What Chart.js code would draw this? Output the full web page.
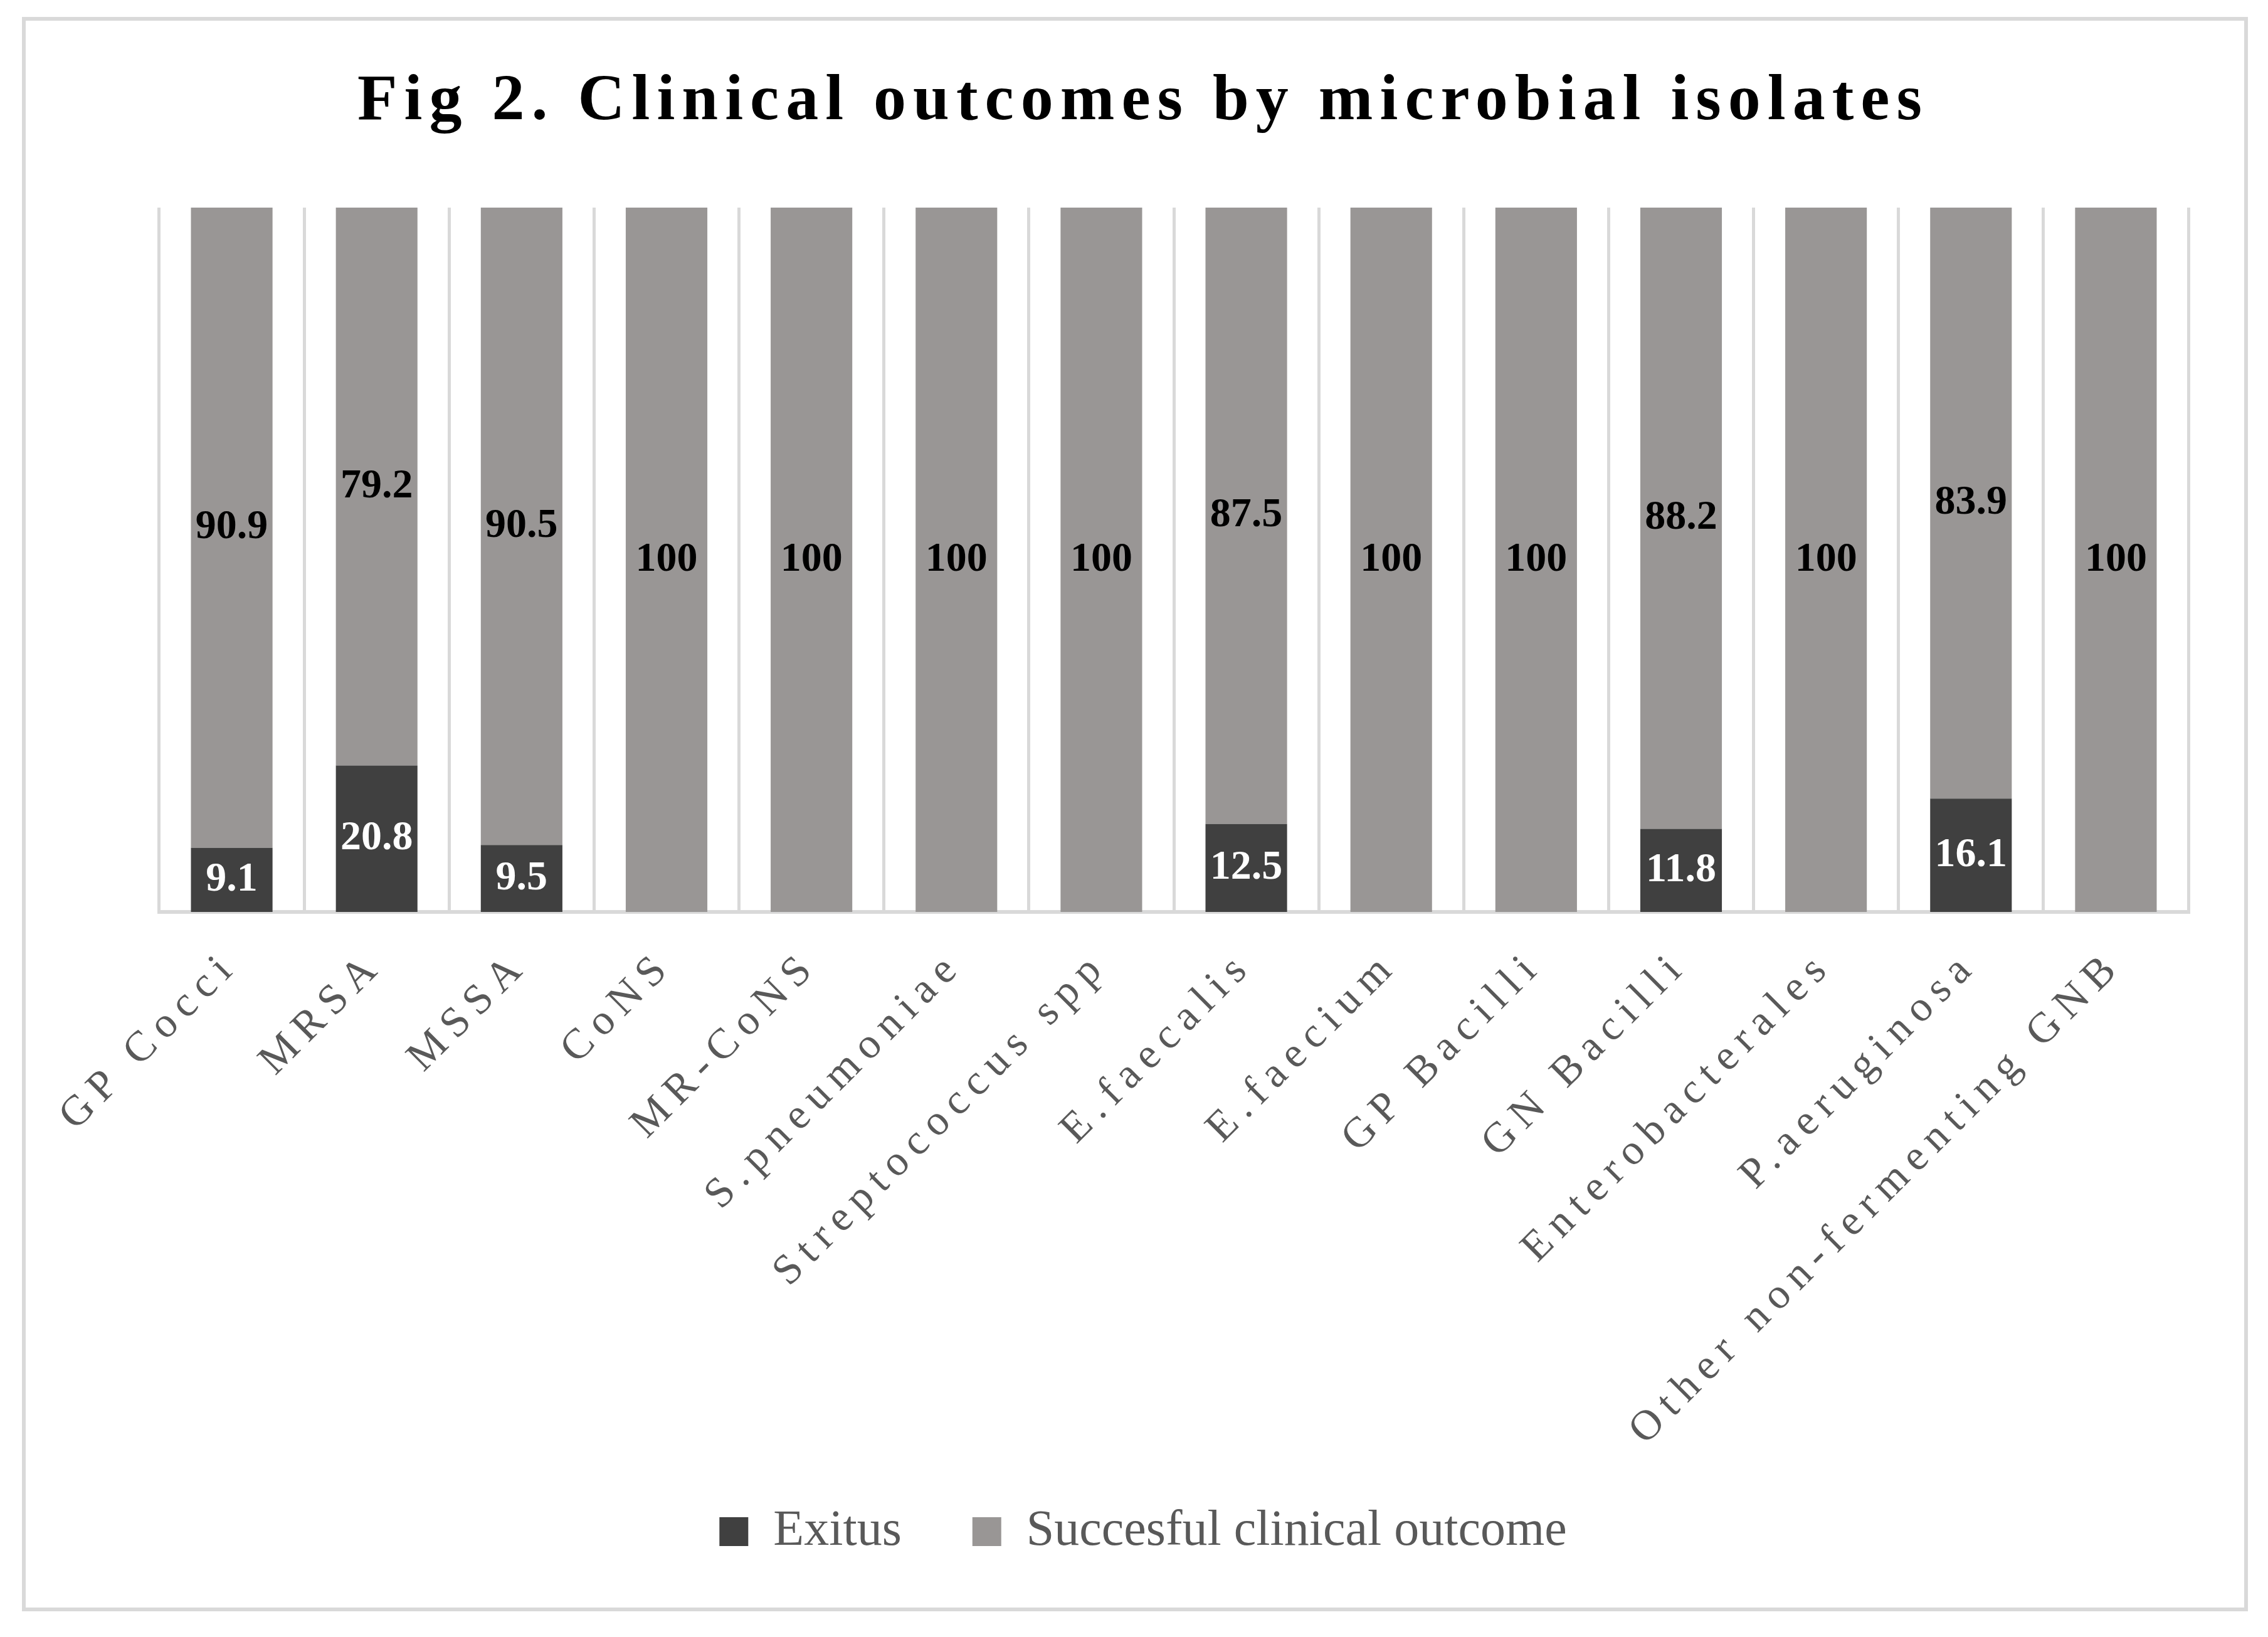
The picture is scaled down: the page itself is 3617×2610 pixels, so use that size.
<!DOCTYPE html>
<html>
<head>
<meta charset="utf-8">
<script src="https://cdn.jsdelivr.net/npm/chart.js@4.4.1/dist/chart.umd.min.js"></script>
<style>
html,body{margin:0;padding:0;background:#fff;overflow:hidden}
#wrap{width:3617px;height:2610px}
</style>
</head>
<body>
<div id="wrap"><canvas id="c" width="3617" height="2610" style="width:3617px;height:2610px"></canvas></div>
<script>
const chartTitle = 'Fig 2. Clinical outcomes by microbial isolates';
const categories = ['GP Cocci','MRSA','MSSA','CoNS','MR-CoNS','S.pneumoniae','Streptococcus spp','E.faecalis','E.faecium','GP Bacilli','GN Bacilli','Enterobacterales','P.aeruginosa','Other non-fermenting GNB'];
const seriesNames = ['Exitus','Succesful clinical outcome'];
const exitusValues = [9.1,20.8,9.5,0,0,0,0,12.5,0,0,11.8,0,16.1,0];
const successValues = [90.9,79.2,90.5,100,100,100,100,87.5,100,100,88.2,100,83.9,100];

const SERIF = '"Liberation Serif", "DejaVu Serif", serif';

const framePlugin = {
  id: 'frame',
  beforeDraw(chart) {
    const ctx = chart.ctx;
    ctx.save();
    ctx.fillStyle = '#ffffff';
    ctx.fillRect(0, 0, chart.width, chart.height);
    ctx.strokeStyle = '#d9d9d9';
    ctx.lineWidth = 6;
    ctx.strokeRect(38, 30, 3544, 2536);
    ctx.restore();
    // letter spacing for the category labels, no clipping to the axis box
    const sx = chart.scales.x;
    if (sx && !sx.__ls) {
      sx.__ls = true;
      sx._computeLabelArea = function () { return undefined; };
      const orig = sx.drawLabels;
      sx.drawLabels = function (area) {
        const c = this.ctx;
        c.save();
        c.letterSpacing = '13.5px';
        orig.call(this, area);
        c.restore();
      };
    }
    // letter spacing for the title
    const tb = chart.titleBlock;
    if (tb && !tb.__ls) {
      tb.__ls = true;
      const o = tb.draw;
      tb.draw = function () {
        const c = this.ctx;
        c.save();
        c.letterSpacing = '11px';
        o.apply(this, arguments);
        c.restore();
      };
    }
  }
};

const valueLabelPlugin = {
  id: 'valueLabels',
  afterDatasetsDraw(chart) {
    const ctx = chart.ctx;
    ctx.save();
    ctx.font = 'bold 66px ' + SERIF;
    ctx.textAlign = 'center';
    ctx.textBaseline = 'middle';
    chart.data.datasets.forEach((ds, i) => {
      const meta = chart.getDatasetMeta(i);
      meta.data.forEach((bar, j) => {
        const v = ds.data[j];
        if (!v) return;
        const p = bar.getProps(['x', 'y', 'base'], true);
        ctx.fillStyle = ds.labelColor;
        ctx.fillText(String(v), p.x, (p.y + p.base) / 2);
      });
    });
    ctx.restore();
  }
};

new Chart(document.getElementById('c'), {
  type: 'bar',
  data: {
    labels: categories,
    datasets: [
      { label: seriesNames[0], data: exitusValues, backgroundColor: '#404040', labelColor: '#ffffff',
        borderWidth: 0, barPercentage: 0.563, categoryPercentage: 1 },
      { label: seriesNames[1], data: successValues, backgroundColor: '#999695', labelColor: '#000000',
        borderWidth: 0, barPercentage: 0.563, categoryPercentage: 1 }
    ]
  },
  options: {
    responsive: false,
    devicePixelRatio: 1,
    animation: false,
    events: [],
    layout: { padding: { left: 156, right: 127, top: 0, bottom: 118 } },
    plugins: {
      title: {
        display: true, text: chartTitle, color: '#000000',
        font: { family: SERIF, size: 104, weight: 'bold', lineHeight: 1.2 },
        padding: { top: 100.6, bottom: 105.6 }
      },
      legend: {
        position: 'bottom',
        labels: {
          color: '#595959',
          font: { family: SERIF, size: 80 },
          boxWidth: 46, boxHeight: 46, padding: 113
        }
      },
      tooltip: { enabled: false }
    },
    scales: {
      x: {
        stacked: true,
        grid: { color: '#d9d9d9', lineWidth: 5, drawTicks: false, offset: true },
        border: { color: '#d9d9d9', width: 6 },
        ticks: { color: '#595959', font: { family: SERIF, size: 68 }, maxRotation: 45, minRotation: 45, autoSkip: false, padding: 46 },
        afterFit(s) { s.height = 835; }
      },
      y: {
        stacked: true, min: 0, max: 100,
        ticks: { display: false },
        grid: { display: false },
        border: { display: false },
        afterFit(s) { s.width = 98; }
      }
    }
  },
  plugins: [framePlugin, valueLabelPlugin]
});
</script>
</body>
</html>
